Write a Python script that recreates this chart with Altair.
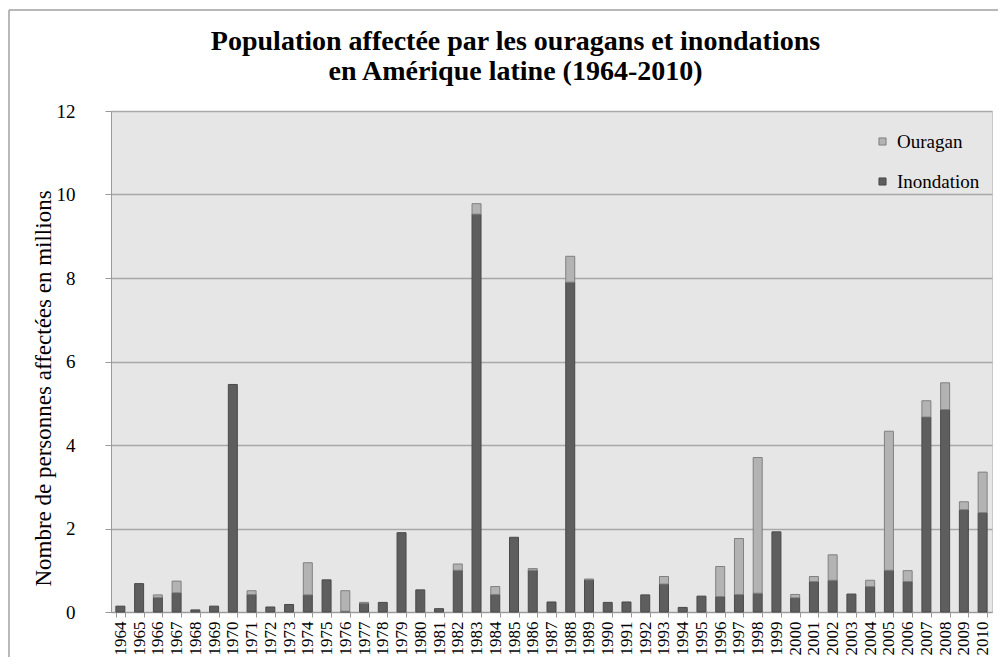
import altair as alt
import pandas as pd

years = list(range(1964, 2011))
inondation = [0.14, 0.68, 0.35, 0.46, 0.05, 0.14, 5.45, 0.42, 0.12, 0.18,
              0.41, 0.77, 0.02, 0.21, 0.23, 1.90, 0.53, 0.08, 1.00, 9.53,
              0.42, 1.79, 1.00, 0.24, 7.90, 0.77, 0.23, 0.24, 0.41, 0.67,
              0.11, 0.38, 0.37, 0.42, 0.45, 1.92, 0.34, 0.73, 0.76, 0.43,
              0.61, 1.00, 0.73, 4.67, 4.85, 2.45, 2.38]
ouragan = [0.00, 0.00, 0.06, 0.28, 0.00, 0.00, 0.00, 0.09, 0.00, 0.00,
           0.77, 0.00, 0.49, 0.02, 0.00, 0.00, 0.00, 0.00, 0.15, 0.25,
           0.19, 0.00, 0.04, 0.00, 0.62, 0.02, 0.00, 0.00, 0.00, 0.18,
           0.00, 0.00, 0.72, 1.34, 3.25, 0.00, 0.08, 0.12, 0.61, 0.00,
           0.15, 3.33, 0.26, 0.39, 0.64, 0.19, 0.97]
types = ["Ouragan", "Inondation"]
fill_colors = ["#b3b3b3", "#5e5e5e"]
stroke_colors = ["#808080", "#4a4a4a"]

rows = []
for y, i, o in zip(years, inondation, ouragan):
    rows.append({"annee": str(y), "type": "Inondation", "valeur": i, "ordre": 0})
    rows.append({"annee": str(y), "type": "Ouragan", "valeur": o, "ordre": 1})
df = pd.DataFrame(rows)

SERIF = "Liberation Serif"

bars = alt.Chart(df).transform_filter(alt.datum.valeur > 0).mark_bar(strokeWidth=1).encode(
    x=alt.X("annee:N", sort=[str(y) for y in years],
            scale=alt.Scale(paddingInner=0.52, paddingOuter=0.26),
            axis=alt.Axis(title=None, labelAngle=-90, labelFont=SERIF, labelFontSize=17,
                          labelColor="black", labelPadding=4, tickSize=5, tickColor="#999999",
                          domainColor="#999999", tickBand="extent", labelOverlap=False,
                          grid=False)),
    y=alt.Y("valeur:Q", stack="zero", scale=alt.Scale(domain=[0, 12]),
            axis=alt.Axis(title="Nombre de personnes affectées en millions",
                          values=[0, 2, 4, 6, 8, 10, 12], format="d",
                          labelFont=SERIF, labelFontSize=19, labelColor="black",
                          labelPadding=30, tickSize=6, tickColor="#999999",
                          domainColor="#999999", grid=True, gridColor="#a8a8a8",
                          gridWidth=1.5, titleFont=SERIF, titleFontSize=23,
                          titleFontWeight="normal", titleColor="black",
                          titleX=-56, titleY=277)),
    color=alt.Color("type:N", scale=alt.Scale(domain=types, range=fill_colors),
                    legend=alt.Legend(title=None, orient="none", legendX=762, legendY=21,
                                      direction="vertical", symbolType="square",
                                      symbolSize=50, symbolStrokeColor="#777777",
                                      symbolStrokeWidth=1, labelFont=SERIF,
                                      labelFontSize=19, labelColor="black",
                                      rowPadding=20, labelOffset=5)),
    stroke=alt.Stroke("type:N", scale=alt.Scale(domain=types, range=stroke_colors), legend=None),
    order=alt.Order("ordre:Q"),
)

frame_df = pd.DataFrame({"k": [0]})
top_line = alt.Chart(frame_df).mark_rule(color="#a0a0a0", strokeWidth=1.5).encode(
    x=alt.value(-102), x2=alt.value(900), y=alt.value(-101))
left_line = alt.Chart(frame_df).mark_rule(color="#a0a0a0", strokeWidth=1.5).encode(
    x=alt.value(-102), y=alt.value(-101), y2=alt.value(560))

chart = alt.layer(bars, top_line, left_line).properties(
    width=881, height=501,
    title=alt.Title(["Population affectée par les ouragans et inondations",
                     "en Amérique latine (1964-2010)"],
                    font=SERIF, fontSize=28, fontWeight="bold", anchor="middle",
                    offset=22, lineHeight=30, dx=-36, dy=99, color="black"),
    autosize=alt.AutoSizeParams(type="none"),
    padding={"left": 103, "top": 103, "right": 6, "bottom": 45},
).configure(background="white", font=SERIF).configure_view(
    fill="#e6e6e6", stroke="#c8c8c8"
).configure_legend(labelFont=SERIF)

chart.save("out.html", embed_options={"renderer": "svg", "actions": False})
